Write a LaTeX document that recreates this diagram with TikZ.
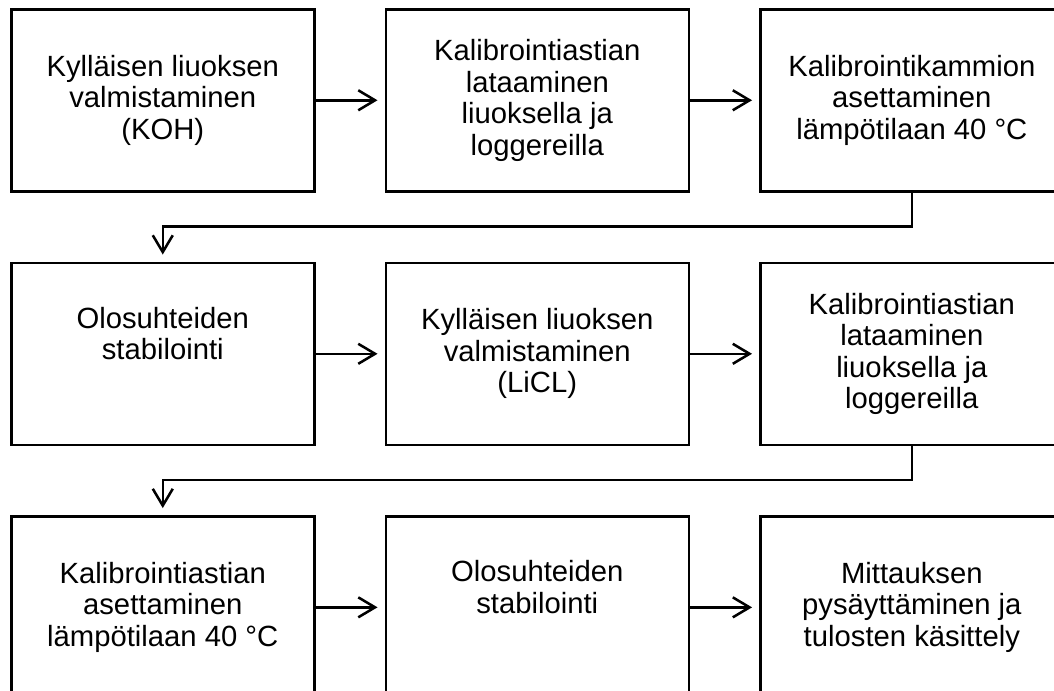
\documentclass[tikz,border=0pt]{standalone}
\usepackage{fontspec}
\setmainfont{Liberation Sans}
\usetikzlibrary{arrows.meta,positioning}

\begin{document}
\begin{tikzpicture}[node distance=1.725cm and 1.725cm,
  box/.style={rectangle,draw,line width=1.8pt,minimum width=7.575cm,
    minimum height=4.55cm,align=center,inner sep=2pt,
    font=\fontsize{20.8}{22.4}\selectfont},
  flow/.style={-{Straight Barb[length=0.42cm,width=0.5cm]},line width=1.8pt,
    shorten >=0.175cm}]

\useasboundingbox (0,0) rectangle (26.35,-17.25);

% rivi 1
\node[box,anchor=north west] (koh) at (0.25,-0.2)
  {Kylläisen liuoksen\\valmistaminen\\(KOH)};
\node[box,right=of koh] (lataus1)
  {Kalibrointiastian\\lataaminen\\liuoksella ja\\loggereilla};
\node[box,right=of lataus1] (kammio)
  {Kalibrointikammion\\asettaminen\\lämpötilaan 40 °C};

% rivi 2
\node[box,below=of koh] (stab1)
  {Olosuhteiden\\stabilointi\\\strut};
\node[box,right=of stab1] (licl)
  {Kylläisen liuoksen\\valmistaminen\\(LiCL)};
\node[box,right=of licl] (lataus2)
  {Kalibrointiastian\\lataaminen\\liuoksella ja\\loggereilla};

% rivi 3
\node[box,below=of stab1] (astia)
  {Kalibrointiastian\\asettaminen\\lämpötilaan 40 °C};
\node[box,right=of astia] (stab2)
  {Olosuhteiden\\stabilointi\\\strut};
\node[box,right=of stab2] (tulos)
  {Mittauksen\\pysäyttäminen ja\\tulosten käsittely};

\draw[flow] (koh) -- (lataus1);
\draw[flow] (lataus1) -- (kammio);
\draw[flow] (kammio.south) -- ++(0,-0.85) -| (stab1.north);
\draw[flow] (stab1) -- (licl);
\draw[flow] (licl) -- (lataus2);
\draw[flow] (lataus2.south) -- ++(0,-0.85) -| (astia.north);
\draw[flow] (astia) -- (stab2);
\draw[flow] (stab2) -- (tulos);

\end{tikzpicture}
\end{document}
